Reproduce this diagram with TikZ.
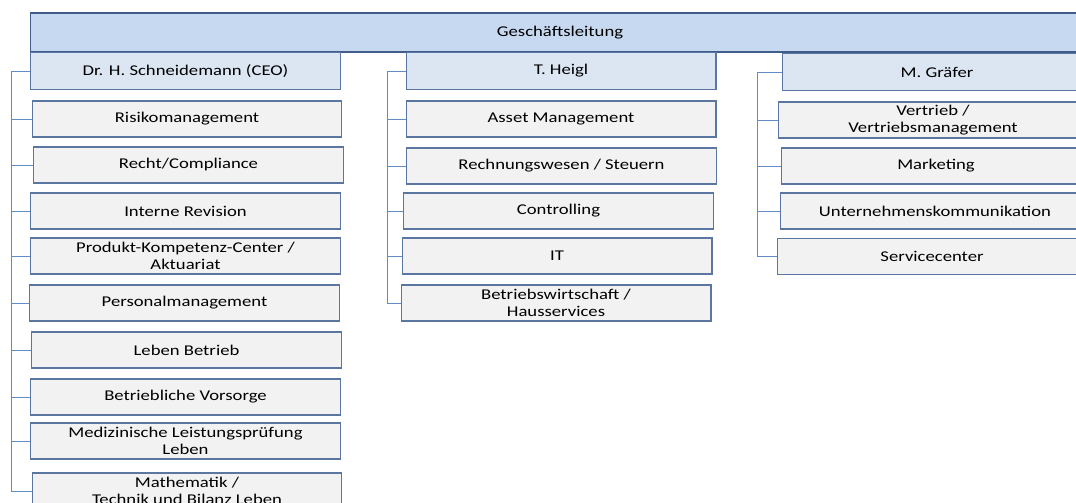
\documentclass[tikz,border=0pt]{standalone}
\usepackage{fontspec}
\setmainfont{Carlito}[FakeStretch=1.25]
\usepackage{tikz}
\usetikzlibrary{positioning}

\definecolor{leadfill}{RGB}{198,217,241}
\definecolor{headfill}{RGB}{220,230,242}
\definecolor{unitfill}{RGB}{242,242,242}
\definecolor{leaddraw}{RGB}{64,92,138}
\definecolor{boxdraw}{RGB}{92,118,162}
\definecolor{linkblue}{RGB}{96,140,200}

\begin{document}
\begin{tikzpicture}[
      x=0.02cm, y=-0.02cm,
      leadbox/.style = {
        rectangle, draw=leaddraw, fill=leadfill, line width=0.6pt,
        minimum width=21.2cm, minimum height=0.78cm,
        font=\fontsize{8.5}{9.5}\selectfont, align=center, text=black
      },
      headbox/.style = {
        rectangle, draw=boxdraw, fill=headfill, line width=0.6pt,
        minimum width=6.2cm, minimum height=0.75cm, inner sep=1pt,
        font=\fontsize{8.5}{9.5}\selectfont, align=center, text=black
      },
      unitbox/.style = {
        rectangle, draw=boxdraw, fill=unitfill, line width=0.6pt,
        minimum width=6.2cm, minimum height=0.72cm, inner sep=1pt,
        font=\fontsize{8.5}{9.5}\selectfont, align=center, text=black
      },
      link/.style = {draw=linkblue, line width=0.55pt}
    ]

      \useasboundingbox (0,0) rectangle (1076,503);
      \clip (0,0) rectangle (1076,503);

      % ===================== Management =====================
      \node[leadbox] (lead) at (560,32.5) {Geschäftsleitung};

      % ===================== Left column =====================
      \node[headbox] (ceo)      at (185.5,71)   {Dr. H. Schneidemann (CEO)};
      \node[unitbox] (risk)     at (187,119)    {Risikomanagement};
      \node[unitbox] (recht)    at (188.5,165)  {Recht/Compliance};
      \node[unitbox] (revision) at (185.5,211)  {Interne Revision};
      \node[unitbox] (produkt)  at (185.5,256)  {Produkt-Kompetenz-Center /\\Aktuariat};
      \node[unitbox] (personal) at (184.5,303)  {Personalmanagement};
      \node[unitbox] (leben)    at (186.5,350)  {Leben Betrieb};
      \node[unitbox] (vorsorge) at (185.5,397)  {Betriebliche Vorsorge};
      \node[unitbox] (medizin)  at (185.5,441)  {Medizinische Leistungsprüfung\\Leben};
      \node[unitbox] (mathe)    at (187,491)    {Mathematik /\\Technik und Bilanz Leben};

      % ===================== Middle column =====================
      \node[headbox] (heigl) at (561,71)     {T. Heigl};
      \node[unitbox] (asset) at (561,119)    {Asset Management};
      \node[unitbox] (rewe)  at (561.5,166)  {Rechnungswesen / Steuern};
      \node[unitbox] (contr) at (558.5,211)  {Controlling};
      \node[unitbox] (it)    at (557,256)    {IT};
      \node[unitbox] (bwl)   at (556,303)    {Betriebswirtschaft /\\Hausservices};

      % ===================== Right column =====================
      \node[headbox] (graefer)   at (937,72)    {M. Gräfer};
      \node[unitbox] (vertrieb)  at (933,120)   {Vertrieb /\\Vertriebsmanagement};
      \node[unitbox] (marketing) at (936,166)   {Marketing};
      \node[unitbox] (komm)      at (935,211)   {Unternehmenskommunikation};
      \node[unitbox] (service)   at (932,256.5) {Servicecenter};

      % ===================== Bus lines =====================
      \coordinate (lbus) at (11,0);
      \coordinate (mbus) at (387,0);
      \coordinate (rbus) at (757,0);

      \draw[link] (ceo.west) -| (lbus |- mathe.west) -- (mathe.west);
      \foreach \n in {risk,recht,revision,produkt,personal,leben,vorsorge,medizin}
        \draw[link] (\n.west -| lbus) -- (\n.west);

      \draw[link] (heigl.west) -| (mbus |- bwl.west) -- (bwl.west);
      \foreach \n in {asset,rewe,contr,it}
        \draw[link] (\n.west -| mbus) -- (\n.west);

      \draw[link] (graefer.west) -| (rbus |- service.west) -- (service.west);
      \foreach \n in {vertrieb,marketing,komm}
        \draw[link] (\n.west -| rbus) -- (\n.west);

    \end{tikzpicture}
\end{document}
